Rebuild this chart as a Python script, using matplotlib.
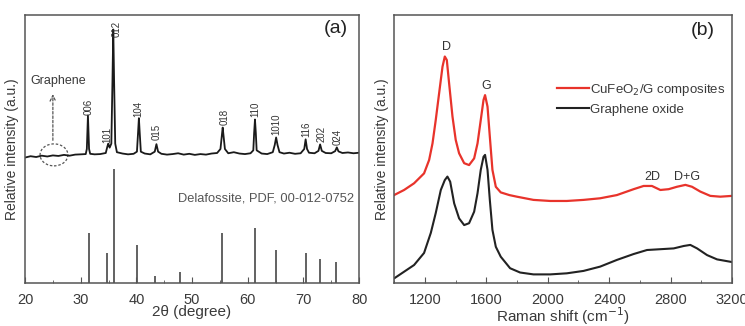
import matplotlib
matplotlib.use("Agg")
import matplotlib.pyplot as plt
from matplotlib.patches import Ellipse

plt.rcParams['font.family'] = ['Liberation Sans', 'DejaVu Sans']

# ---- panel (a): XRD pattern (axis units 0..100) ----
xrd_2theta = [20.0, 21.0, 22.0, 23.0, 24.0, 25.0, 26.0, 27.0, 28.0, 29.0, 30.0,
              30.9, 31.1, 31.3, 31.5, 31.7, 32.5, 33.5, 34.5, 34.8, 34.95, 35.2,
              35.5, 35.7, 35.85, 36.0, 36.2, 36.5, 37.5, 38.5, 39.5, 40.1, 40.3,
              40.45, 40.6, 40.8, 41.5, 42.5, 43.3, 43.6, 43.9, 44.5, 45.5, 46.5,
              47.5, 48.5, 49.5, 50.5, 51.5, 52.5, 53.5, 54.5, 55.1, 55.35, 55.5,
              55.65, 55.9, 56.5, 57.5, 58.5, 59.5, 60.5, 61.0, 61.15, 61.3, 61.45,
              61.6, 62.5, 63.5, 64.5, 64.85, 65.1, 65.35, 65.7, 66.5, 67.5, 68.5,
              69.5, 70.15, 70.4, 70.65, 71.0, 72.0, 72.7, 73.0, 73.3, 74.0, 75.0,
              75.7, 76.0, 76.3, 77.0, 78.0, 79.0, 80.0]
xrd_counts = [46.8, 47.3, 47.0, 47.5, 47.2, 47.6, 47.4, 47.8, 47.5, 47.9, 48.0,
              48.1, 50.0, 62.5, 50.0, 48.2, 48.0, 48.1, 48.5, 51.0, 52.0, 50.5,
              52.0, 75.0, 94.6, 75.0, 52.0, 48.8, 48.3, 48.0, 48.2, 49.0, 56.0,
              61.5, 56.0, 49.0, 48.3, 48.0, 49.0, 51.8, 49.0, 48.2, 47.9, 48.1,
              48.4, 47.9, 48.2, 47.8, 48.1, 47.9, 48.3, 48.5, 50.0, 55.0, 58.0,
              55.0, 50.0, 48.4, 48.8, 48.3, 48.1, 48.4, 49.5, 56.0, 61.0, 56.0,
              49.5, 48.3, 48.1, 48.8, 51.5, 54.3, 51.5, 48.8, 48.3, 48.6, 48.2,
              48.4, 50.0, 53.6, 50.0, 48.6, 48.4, 49.3, 51.7, 49.3, 48.5, 48.4,
              49.2, 50.6, 49.1, 48.5, 48.7, 48.4, 48.6]

hkl_labels = ['006', '101', '012', '104', '015', '018', '110', '1010', '116', '202', '024']
hkl_pos = [31.4, 34.7, 36.5, 40.3, 43.7, 55.8, 61.3, 65.1, 70.6, 73.3, 76.2]
hkl_label_y = [62.7, 52.2, 91.8, 61.9, 53.4, 59.0, 61.9, 55.2, 54.5, 52.6, 51.5]

# reference pattern, PDF 00-012-0752
pdf_pos = [31.4, 34.7, 35.9, 40.2, 43.4, 47.8, 55.4, 61.3, 65.0, 70.4, 73.0, 75.9]
pdf_int = [44, 26, 100, 33, 6, 10, 44, 48, 29, 26, 21, 18]

# ---- panel (b): Raman spectra ----
raman_red_x = [1000, 1065, 1130, 1195, 1228, 1250, 1271, 1293, 1315, 1330, 1343,
               1358, 1380, 1401, 1423, 1456, 1488, 1521, 1543, 1564, 1582, 1592,
               1608, 1623, 1640, 1662, 1694, 1750, 1799, 1907, 2016, 2124, 2233,
               2341, 2450, 2559, 2624, 2678, 2733, 2787, 2841, 2896, 2939, 2993,
               3058, 3123, 3200]
raman_red_y = [32.8, 34.7, 37.2, 40.9, 45.9, 52.1, 60.8, 70.8, 80.7, 84.5, 83.2,
               74.5, 62.1, 53.4, 48.4, 44.7, 44.0, 46.5, 52.1, 60.8, 68.3, 70.1,
               65.8, 54.6, 42.2, 35.9, 33.8, 32.8, 32.2, 31.0, 30.6, 30.6, 31.0,
               31.6, 32.8, 35.0, 36.2, 36.2, 34.7, 35.0, 35.9, 36.6, 35.9, 34.1,
               32.5, 32.2, 32.5]
raman_blk_x = [1000, 1065, 1130, 1195, 1239, 1271, 1304, 1330, 1347, 1365, 1391,
               1423, 1456, 1488, 1521, 1543, 1564, 1582, 1592, 1608, 1623, 1640,
               1662, 1694, 1755, 1820, 1907, 2016, 2124, 2233, 2341, 2450, 2559,
               2646, 2733, 2820, 2885, 2928, 2972, 3037, 3102, 3200]
raman_blk_y = [1.7, 4.2, 6.7, 11.2, 18.7, 26.1, 34.7, 38.4, 39.7, 37.8, 29.7,
               24.1, 21.6, 22.3, 26.6, 33.5, 42.2, 47.1, 47.8, 42.2, 31.0, 19.8,
               13.5, 9.8, 5.5, 3.9, 3.2, 3.2, 3.6, 4.5, 6.1, 8.6, 10.8,
               12.3, 12.6, 12.9, 13.8, 14.2, 12.9, 10.4, 8.8, 7.8]
band_labels = ['D', 'G', '2D', 'D+G']
band_x = [1338, 1601, 2679, 2907]
band_y = [88.0, 73.5, 39.6, 39.6]

txt = '#3a3a3a'
fig = plt.figure(figsize=(7.45, 3.26), dpi=100)
ax1 = fig.add_axes([0.0336, 0.132, 0.4484, 0.822])
ax2 = fig.add_axes([0.529, 0.132, 0.4537, 0.822])

for ax in (ax1, ax2):
    for s in ax.spines.values():
        s.set_color('#555')
        s.set_linewidth(1.1)
    ax.set_yticks([])
    ax.tick_params(axis='x', which='both', direction='in', colors='#555',
                   labelcolor=txt, labelsize=10.5, pad=7)
    ax.tick_params(axis='x', which='major', length=4)
    ax.tick_params(axis='x', which='minor', length=2.5)
    ax.set_ylim(0, 100)

# (a)
ax1.plot(xrd_2theta, xrd_counts, color='#1a1a1a', lw=1.3)
ax1.vlines(pdf_pos, 0, [v * 0.425 for v in pdf_int], color='#555', lw=1.3)
for lab, x, y in zip(hkl_labels, hkl_pos, hkl_label_y):
    ax1.text(x, y, lab, rotation=90, ha='center', va='bottom',
             fontsize=7, color='#333')
ax1.add_patch(Ellipse((25.2, 47.8), 5.0, 8.2, fill=False, ls=(0, (2, 1.5)),
                      ec='#555', lw=0.9))
ax1.annotate('', xy=(25.0, 71.5), xytext=(25.0, 52.2),
             arrowprops=dict(arrowstyle='->', ls=(0, (2, 1.5)), color='#555', lw=0.9))
ax1.text(26.0, 75.5, 'Graphene', ha='center', va='center', fontsize=9, color=txt)
ax1.text(0.985, 0.317, 'Delafossite, PDF, 00-012-0752', transform=ax1.transAxes,
         ha='right', va='center', fontsize=9.3, color='#555')
ax1.text(0.93, 0.95, '(a)', transform=ax1.transAxes, ha='center', va='center',
         fontsize=14, color='#222')
ax1.set_xlim(20, 80)
ax1.set_xticks(range(20, 81, 10))
ax1.set_xticks(range(25, 80, 10), minor=True)
ax1.set_xlabel('2θ (degree)', fontsize=11, color=txt, labelpad=-1)
ax1.set_ylabel('Relative intensity (a.u.)', fontsize=10, color=txt, labelpad=4)

# (b)
ax2.plot(raman_red_x, raman_red_y, color='#e8332b', lw=1.6, label='CuFeO$_2$/G composites')
ax2.plot(raman_blk_x, raman_blk_y, color='#222', lw=1.5, label='Graphene oxide')
for lab, x, y in zip(band_labels, band_x, band_y):
    ax2.text(x, y, lab, ha='center', va='center', fontsize=9, color='#333')
ax2.legend(loc='upper left', bbox_to_anchor=(0.482, 0.75), frameon=False,
           fontsize=9.5, handlelength=2.4, handletextpad=0.1, labelspacing=0.4,
           borderpad=0, borderaxespad=0, labelcolor=txt)
ax2.text(0.914, 0.944, '(b)', transform=ax2.transAxes, ha='center', va='center',
         fontsize=14, color='#222')
ax2.set_xlim(1000, 3200)
ax2.set_xticks(range(1200, 3201, 400))
ax2.set_xticks(range(1000, 3201, 200), minor=True)
ax2.set_xlabel('Raman shift (cm$^{-1}$)', fontsize=11, color=txt, labelpad=-1)
ax2.set_ylabel('Relative intensity (a.u.)', fontsize=10, color=txt, labelpad=4)

fig.savefig('out.png', dpi=100)
